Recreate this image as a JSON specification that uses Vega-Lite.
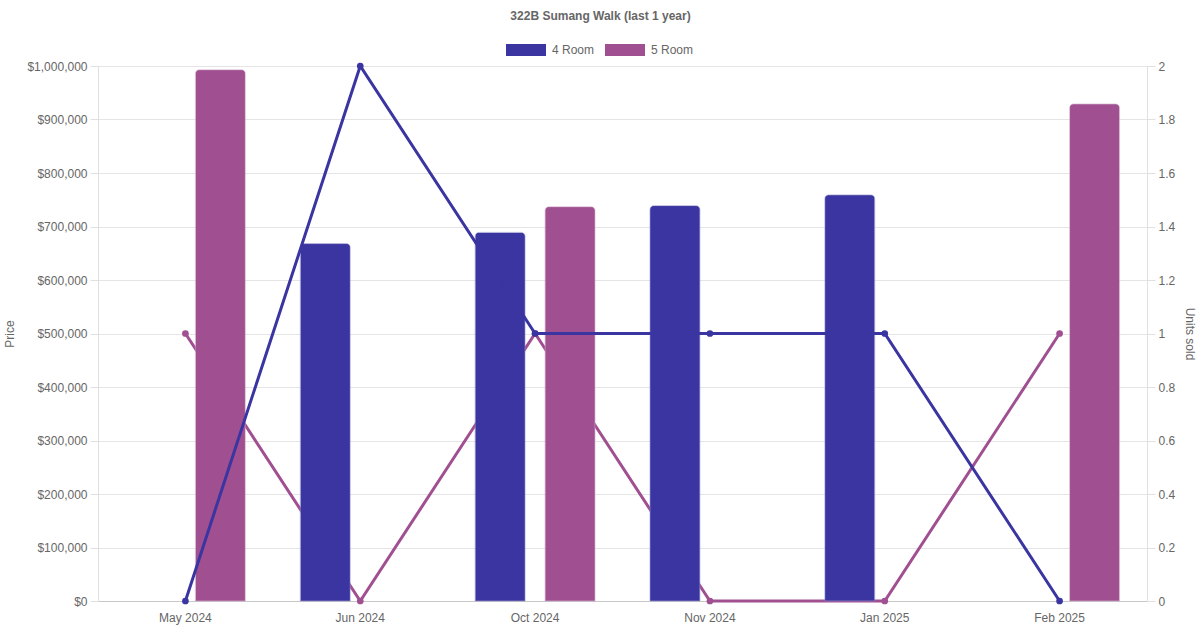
{
  "$schema": "https://vega.github.io/schema/vega-lite/v6.json",
  "width": 1049,
  "height": 535,
  "autosize": "none",
  "padding": {"left": 98, "top": 66, "right": 53, "bottom": 29},
  "background": "white",
  "title": {
    "text": "322B Sumang Walk (last 1 year)",
    "fontSize": 12,
    "fontWeight": "bold",
    "color": "#666",
    "offset": 7,
    "dx": -22
  },
  "data": {
    "values": [
      {"month": "May 2024", "series": "4 Room", "price": null, "units": 0},
      {"month": "May 2024", "series": "5 Room", "price": 993000, "units": 1},
      {"month": "Jun 2024", "series": "4 Room", "price": 668000, "units": 2},
      {"month": "Jun 2024", "series": "5 Room", "price": null, "units": 0},
      {"month": "Oct 2024", "series": "4 Room", "price": 689000, "units": 1},
      {"month": "Oct 2024", "series": "5 Room", "price": 737000, "units": 1},
      {"month": "Nov 2024", "series": "4 Room", "price": 739000, "units": 1},
      {"month": "Nov 2024", "series": "5 Room", "price": null, "units": 0},
      {"month": "Jan 2025", "series": "4 Room", "price": 759000, "units": 1},
      {"month": "Jan 2025", "series": "5 Room", "price": null, "units": 0},
      {"month": "Feb 2025", "series": "4 Room", "price": null, "units": 0},
      {"month": "Feb 2025", "series": "5 Room", "price": 929000, "units": 1}
    ]
  },
  "encoding": {
    "x": {
      "field": "month",
      "type": "nominal",
      "sort": ["May 2024", "Jun 2024", "Oct 2024", "Nov 2024", "Jan 2025", "Feb 2025"],
      "scale": {"paddingInner": 0, "paddingOuter": 0},
      "axis": {
        "title": null,
        "labelAngle": 0,
        "ticks": false,
        "labelPadding": 11,
        "grid": false,
        "domainColor": "#c8c8c8"
      }
    }
  },
  "layer": [
    {
      "transform": [{"filter": "datum.series == '5 Room'"}],
      "mark": {
        "type": "line",
        "color": "#a05091",
        "strokeWidth": 3,
        "point": {"filled": true, "size": 45, "color": "#a05091"}
      },
      "encoding": {
        "y": {
          "field": "units",
          "type": "quantitative",
          "scale": {"domain": [0, 2], "nice": false},
          "axis": {
            "orient": "right",
            "title": "Units sold",
            "format": "~g",
            "tickCount": 10,
            "tickSize": 8,
            "labelPadding": 3,
            "titlePadding": 8,
            "grid": false
          }
        }
      }
    },
    {
      "transform": [{"filter": "datum.price != null"}],
      "mark": {
        "type": "bar",
        "cornerRadiusTopLeft": 4,
        "cornerRadiusTopRight": 4,
        "strokeWidth": 1,
        "strokeOpacity": 0.5
      },
      "encoding": {
        "xOffset": {
          "field": "series",
          "type": "nominal",
          "scale": {"domain": ["4 Room", "5 Room"], "paddingInner": 0.2857, "paddingOuter": 0.3929}
        },
        "y": {
          "field": "price",
          "type": "quantitative",
          "scale": {"domain": [0, 1000000], "nice": false},
          "axis": {
            "title": "Price",
            "format": "$,.0f",
            "tickCount": 10,
            "tickSize": 8,
            "labelPadding": 3,
            "titlePadding": 10,
            "grid": true
          }
        },
        "color": {
          "field": "series",
          "type": "nominal",
          "scale": {"domain": ["4 Room", "5 Room"], "range": ["#3a35a0", "#a05091"]},
          "legend": {
            "title": null,
            "orient": "none",
            "legendX": 408,
            "legendY": -36,
            "direction": "horizontal",
            "symbolType": "M-1,-0.3H1V0.3H-1Z",
            "symbolSize": 1600,
            "symbolStrokeWidth": 0,
            "labelFontSize": 12,
            "labelColor": "#666",
            "labelOffset": 6,
            "columnPadding": 10
          }
        },
        "stroke": {
          "field": "series",
          "type": "nominal",
          "scale": {"domain": ["4 Room", "5 Room"], "range": ["#8a86c6", "#c99bc0"]},
          "legend": null
        }
      }
    },
    {
      "transform": [{"filter": "datum.series == '4 Room'"}],
      "mark": {
        "type": "line",
        "color": "#3a35a0",
        "strokeWidth": 3,
        "point": {"filled": true, "size": 45, "color": "#3a35a0"}
      },
      "encoding": {
        "y": {
          "field": "units",
          "type": "quantitative",
          "scale": {"domain": [0, 2], "nice": false},
          "axis": null
        }
      }
    }
  ],
  "resolve": {"scale": {"y": "independent"}},
  "config": {
    "font": "Liberation Sans",
    "view": {"stroke": null},
    "axis": {
      "labelFontSize": 12,
      "labelColor": "#666",
      "titleFontSize": 12,
      "titleFontWeight": "normal",
      "titleColor": "#666",
      "domainColor": "#e0e0e0",
      "tickColor": "#e0e0e0",
      "gridColor": "#e5e5e5"
    }
  }
}
